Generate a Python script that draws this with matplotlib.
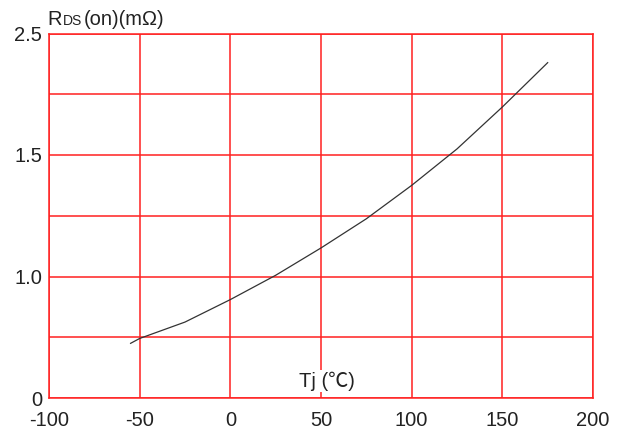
import matplotlib
matplotlib.use("Agg")
import matplotlib.pyplot as plt

# Tj (deg C) vs RDS(on), y kept in the chart's own grid units
tj = [-55, -50, -25, 0, 25, 50, 75, 100, 125, 150, 175]
rds_grid = [0.90, 0.98, 1.25, 1.62, 2.02, 2.47, 2.95, 3.50, 4.10, 4.79, 5.52]

x_ticks = [-100, -50, 0, 50, 100, 150, 200]
y_grid = [0, 1, 2, 3, 4, 5, 6]
y_tick_pos = [0, 2, 4, 6]
y_tick_labels = ["0", "1.0", "1.5", "2.5"]

plt.rcParams['font.family'] = ['Liberation Sans', 'Noto Sans CJK SC']
plt.rcParams['axes.unicode_minus'] = False

W, H = 619, 432
fig = plt.figure(figsize=(W / 100, H / 100), dpi=100)
ax = fig.add_axes([49 / W, (H - 398) / H, (593 - 49) / W, (398 - 33.5) / H])

red = '#ff2020'
ax.set_xlim(-100, 200)
ax.set_ylim(0, 6)
for x in x_ticks:
    ax.axvline(x, color=red, lw=1.1, zorder=1)
for y in y_grid:
    ax.axhline(y, color=red, lw=1.1, zorder=1)
for s in ax.spines.values():
    s.set_color(red)
    s.set_linewidth(1.1)

ax.plot(tj, rds_grid, color='#333333', lw=0.9, zorder=3)

ax.set_xticks(x_ticks)
ax.set_yticks(y_tick_pos)
ax.set_yticklabels(y_tick_labels)
ax.tick_params(length=0, labelsize=14.5, colors='#222222')
ax.tick_params(axis='x', pad=9)
ax.tick_params(axis='y', pad=5)

ax.text(38, 0.28, "Tj (℃)", fontsize=14.5, color='#222222', ha='left', va='center',
        bbox=dict(facecolor='white', edgecolor='none', pad=1), zorder=2)

fig.text(47 / W, 1 - 25 / H, "R", fontsize=14.5, color='#222222', ha='left', va='baseline')
fig.text(63 / W, 1 - 25 / H, "DS", fontsize=10, color='#222222', ha='left', va='baseline')
fig.text(84 / W, 1 - 25 / H, "(on)(mΩ)", fontsize=14.5, color='#222222', ha='left', va='baseline')

fig.savefig("out.png", dpi=100)
